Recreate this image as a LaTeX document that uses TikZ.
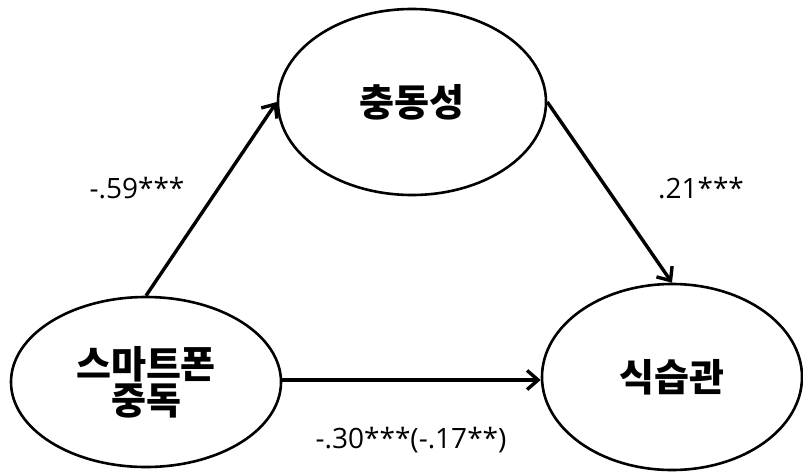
\documentclass[tikz,border=0pt]{standalone}
\usepackage{fontspec}
\newfontfamily\kor{Noto Sans CJK KR}
\newfontfamily\num{Open Sans}
\usetikzlibrary{shapes.geometric,arrows.meta}
\tikzset{
  var/.style={ellipse, draw, line width=2.6pt, inner sep=0pt, align=center,
    font=\kor\bfseries\fontsize{38}{42}\selectfont},
  effect/.style={line width=3.4pt, -{Straight Barb[length=11pt,width=19pt]}},
  coef/.style={font=\num\fontsize{28}{30}\selectfont}
}
\begin{document}
\begin{tikzpicture}[x=1pt, y=-1pt]
    \useasboundingbox (0,0) rectangle (803,472);
    % 세 변수
    \node[var, minimum width=268pt, minimum height=186pt] (impuls) at (412,102) {충동성};
    \node[var, minimum width=270pt, minimum height=170pt] (smart) at (146,382) {스마트폰\\[-6pt]중독};
    \node[var, minimum width=260pt, minimum height=186pt] (diet) at (672,377) {식습관};
    % 경로
    \draw[effect] (smart.north) -- (impuls.west);
    \draw[effect] (impuls.east) -- (diet.north);
    \draw[effect] (smart.east |- 0,380) -- (diet.west |- 0,380);
    % 경로계수
    \node[coef] (c1) at (137,188) {-.59***};
    \node[coef] (c2) at (701,188) {.21***};
    \node[coef] (c3) at (411,440) {-.30***(-.17**)};
\end{tikzpicture}
\end{document}
